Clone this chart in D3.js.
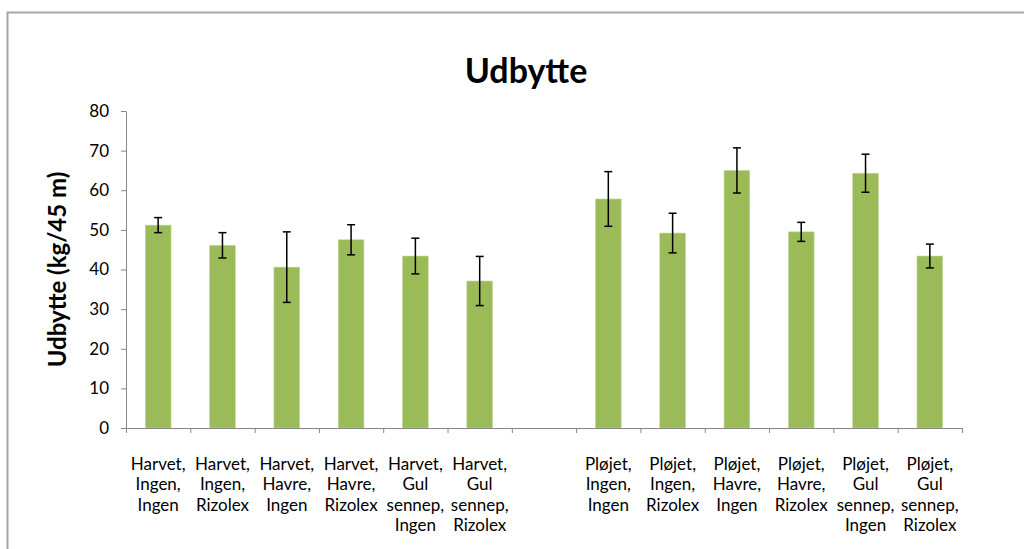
<!DOCTYPE html>
<html>
<head>
<meta charset="utf-8">
<script src="https://cdn.jsdelivr.net/npm/d3@7"></script>
<style>
  body { margin: 0; background: #fff; }
  svg { display: block; font-family: Lato, "Open Sans", sans-serif; }
</style>
</head>
<body>
<div id="chart"></div>
<script>
const W = 1024, H = 549;
const MARGIN = { LEFT: 126, RIGHT: 62, TOP: 111, BOTTOM: 121 };
const PLOT_W = W - MARGIN.LEFT - MARGIN.RIGHT;
const PLOT_H = H - MARGIN.TOP - MARGIN.BOTTOM;

// data
const categories = [
  ["Harvet,", "Ingen,", "Ingen"],
  ["Harvet,", "Ingen,", "Rizolex"],
  ["Harvet,", "Havre,", "Ingen"],
  ["Harvet,", "Havre,", "Rizolex"],
  ["Harvet,", "Gul", "sennep,", "Ingen"],
  ["Harvet,", "Gul", "sennep,", "Rizolex"],
  [],
  ["Pløjet,", "Ingen,", "Ingen"],
  ["Pløjet,", "Ingen,", "Rizolex"],
  ["Pløjet,", "Havre,", "Ingen"],
  ["Pløjet,", "Havre,", "Rizolex"],
  ["Pløjet,", "Gul", "sennep,", "Ingen"],
  ["Pløjet,", "Gul", "sennep,", "Rizolex"]
];
const values = [51.2, 46.1, 40.6, 47.5, 43.4, 37.1, null, 57.8, 49.2, 65.0, 49.5, 64.3, 43.4];
const errors = [1.9, 3.2, 8.9, 3.8, 4.5, 6.2, null, 6.9, 5.0, 5.7, 2.4, 4.8, 3.0];
const yTicks = [0, 10, 20, 30, 40, 50, 60, 70, 80];

const svg = d3.select("#chart").append("svg").attr("width", W).attr("height", H);

// outer chart frame
svg.append("rect")
  .attr("x", 7.5).attr("y", 12.5)
  .attr("width", 1100).attr("height", 700)
  .attr("fill", "none").attr("stroke", "#a6a6a6").attr("stroke-width", 2);

const g = svg.append("g").attr("transform", `translate(${MARGIN.LEFT}, ${MARGIN.TOP})`);

const idx = d3.range(categories.length);
const x = d3.scaleBand().domain(idx).range([0, PLOT_W]).paddingInner(0.6).paddingOuter(0.3);
const xEdge = d3.scaleLinear().domain([0, categories.length]).range([0, PLOT_W]);
const y = d3.scaleLinear().domain([0, 80]).range([PLOT_H, 0]);

// bars
const data = idx.filter(i => values[i] !== null).map(i => ({ i, v: values[i], e: errors[i] }));
g.selectAll(".bar").data(data).enter().append("rect")
  .attr("class", "bar")
  .attr("x", d => x(d.i))
  .attr("y", d => y(d.v))
  .attr("width", x.bandwidth())
  .attr("height", d => PLOT_H - y(d.v))
  .attr("fill", "#9bbb59")
  .attr("stroke", "#c4d8a0").attr("stroke-width", 0.6);

// error bars
const eb = g.selectAll(".err").data(data).enter().append("g").attr("class", "err")
  .attr("stroke", "#000").attr("stroke-width", 1.5);
const cx = d => x(d.i) + x.bandwidth() / 2;
eb.append("line").attr("x1", cx).attr("x2", cx)
  .attr("y1", d => y(d.v + d.e)).attr("y2", d => y(d.v - d.e));
eb.append("line").attr("x1", d => cx(d) - 4).attr("x2", d => cx(d) + 4)
  .attr("y1", d => y(d.v + d.e)).attr("y2", d => y(d.v + d.e));
eb.append("line").attr("x1", d => cx(d) - 4).attr("x2", d => cx(d) + 4)
  .attr("y1", d => y(d.v - d.e)).attr("y2", d => y(d.v - d.e));

// y axis
const yAxis = g.append("g").call(d3.axisLeft(y).tickValues(yTicks).tickSize(5).tickSizeOuter(0).tickPadding(12));
yAxis.selectAll("path, line").attr("stroke", "#868686");
yAxis.selectAll("text").attr("font-size", "17px").attr("fill", "#000").attr("font-family", "Lato");

// x axis: ticks at band edges
const xAxis = g.append("g").attr("transform", `translate(0, ${PLOT_H})`)
  .call(d3.axisBottom(xEdge).tickValues(d3.range(categories.length + 1)).tickSize(5).tickSizeOuter(0).tickFormat(""));
xAxis.selectAll("path, line").attr("stroke", "#868686");

// category labels
const lab = g.selectAll(".cat").data(idx).enter().append("text")
  .attr("class", "cat")
  .attr("text-anchor", "middle")
  .attr("font-size", "17px")
  .attr("fill", "#000")
  .attr("transform", i => `translate(${x(i) + x.bandwidth() / 2}, ${PLOT_H + 42})`);
lab.selectAll("tspan").data(i => categories[i]).enter().append("tspan")
  .attr("x", 0).attr("dy", (d, k) => k === 0 ? 0 : 20.3)
  .text(d => d);

// title
svg.append("text")
  .attr("x", 526).attr("y", 83)
  .attr("text-anchor", "middle")
  .attr("font-size", "34px").attr("font-weight", "bold")
  .text("Udbytte");

// y axis title
svg.append("text")
  .attr("transform", `translate(66, ${MARGIN.TOP + PLOT_H / 2}) rotate(-90)`)
  .attr("text-anchor", "middle")
  .attr("font-size", "24px").attr("font-weight", "bold")
  .text("Udbytte (kg/45 m)");
</script>
</body>
</html>
